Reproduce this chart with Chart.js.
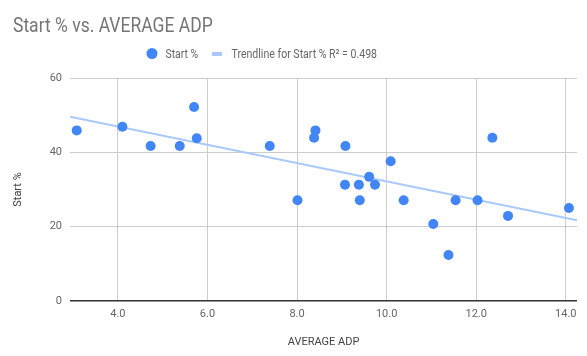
<!DOCTYPE html>
<html>
<head>
<meta charset="utf-8">
<script src="https://cdn.jsdelivr.net/npm/chart.js@4.4.0/dist/chart.umd.min.js"></script>
<style>
html,body{margin:0;padding:0;background:#fff;}
#wrap{width:587px;height:356px;position:relative;}
</style>
</head>
<body>
<div id="wrap"><canvas id="c" width="587" height="356"></canvas></div>
<script>
// Data
const adp = [3.08, 4.10, 4.73, 5.38, 5.70, 5.76, 7.39, 8.01, 8.38, 8.41, 9.08, 9.07, 9.38, 9.40, 9.61, 9.74, 10.09, 10.38, 11.04, 11.38, 11.54, 12.03, 12.36, 12.71, 14.07];
const startPct = [45.9, 46.9, 41.7, 41.7, 52.2, 43.8, 41.7, 27.1, 43.9, 45.9, 41.7, 31.3, 31.3, 27.1, 33.4, 31.3, 37.6, 27.1, 20.7, 12.4, 27.1, 27.1, 43.9, 22.9, 25.0];
const trendX = [2.93, 14.25];
const trendY = [49.6, 21.7];
const xTicks = [4, 6, 8, 10, 12, 14];
const yTicks = [0, 20, 40, 60];
const titleText = 'Start % vs. AVERAGE ADP';
const seriesLabel = 'Start %';
const trendLabel = 'Trendline for Start % R² = 0.498';

const pointColor = '#4285F4';
const trendColor = '#A9C9FA';
const FONT = 'Roboto, "Noto Sans", sans-serif';

function squeezeText(ctx, text, x, y, sx) {
  ctx.save();
  ctx.translate(x, y);
  ctx.scale(sx, 1);
  ctx.fillText(text, 0, 0);
  ctx.restore();
}

const headerPlugin = {
  id: 'header',
  afterDraw(chart) {
    const ctx = chart.ctx;
    ctx.save();
    ctx.fillStyle = '#757575';
    ctx.font = '20px ' + FONT;
    ctx.textBaseline = 'alphabetic';
    ctx.textAlign = 'left';
    squeezeText(ctx, titleText, 13, 32, 0.875);
    // legend
    ctx.font = '12px ' + FONT;
    ctx.fillStyle = pointColor;
    ctx.beginPath();
    ctx.arc(152, 53.5, 5.5, 0, Math.PI * 2);
    ctx.fill();
    ctx.fillStyle = '#666';
    squeezeText(ctx, seriesLabel, 165.5, 58, 0.87);
    ctx.fillStyle = trendColor;
    ctx.fillRect(212, 52, 10, 4);
    ctx.fillStyle = '#666';
    squeezeText(ctx, trendLabel, 231.5, 58, 0.88);
    ctx.restore();
  }
};

new Chart(document.getElementById('c'), {
  type: 'scatter',
  data: {
    datasets: [
      {
        label: seriesLabel,
        data: adp.map((x, i) => ({x: x, y: startPct[i]})),
        backgroundColor: pointColor,
        borderColor: pointColor,
        pointRadius: 5,
        pointHoverRadius: 5,
        borderWidth: 0,
        order: 1
      },
      {
        label: trendLabel,
        data: trendX.map((x, i) => ({x: x, y: trendY[i]})),
        showLine: true,
        borderColor: trendColor,
        backgroundColor: trendColor,
        borderWidth: 2,
        pointRadius: 0,
        order: 2
      }
    ]
  },
  options: {
    responsive: false,
    animation: false,
    layout: {padding: {left: 0, right: 10, top: 78, bottom: 0}},
    plugins: {
      legend: {display: false},
      title: {display: false},
      tooltip: {enabled: false}
    },
    scales: {
      x: {
        type: 'linear',
        min: 2.93,
        max: 14.25,
        afterBuildTicks(scale) { scale.ticks = xTicks.map(v => ({value: v})); },
        afterFit(scale) { scale.height = 55; },
        ticks: {
          color: '#666',
          font: {family: FONT, size: 11},
          padding: 7,
          maxRotation: 0,
          callback: v => Number(v).toFixed(1)
        },
        grid: {color: '#cccccc', drawTicks: false, lineWidth: 1},
        border: {display: false},
        title: {display: true, text: 'AVERAGE ADP', color: '#444', font: {family: FONT, size: 11}, padding: {top: 4, bottom: 7}}
      },
      y: {
        min: 0,
        max: 60,
        afterBuildTicks(scale) { scale.ticks = yTicks.map(v => ({value: v})); },
        afterFit(scale) { scale.width = 70; },
        ticks: {
          color: '#666',
          font: {family: FONT, size: 11},
          padding: 8
        },
        grid: {
          color: c => (c.tick && c.tick.value === 0) ? '#333333' : '#cccccc',
          lineWidth: c => (c.tick && c.tick.value === 0) ? 1.5 : 1,
          drawTicks: false
        },
        border: {display: false},
        title: {display: true, text: 'Start %', color: '#444', font: {family: FONT, size: 11}, padding: {top: 12, bottom: 4}}
      }
    }
  },
  plugins: [headerPlugin]
});
</script>
</body>
</html>
